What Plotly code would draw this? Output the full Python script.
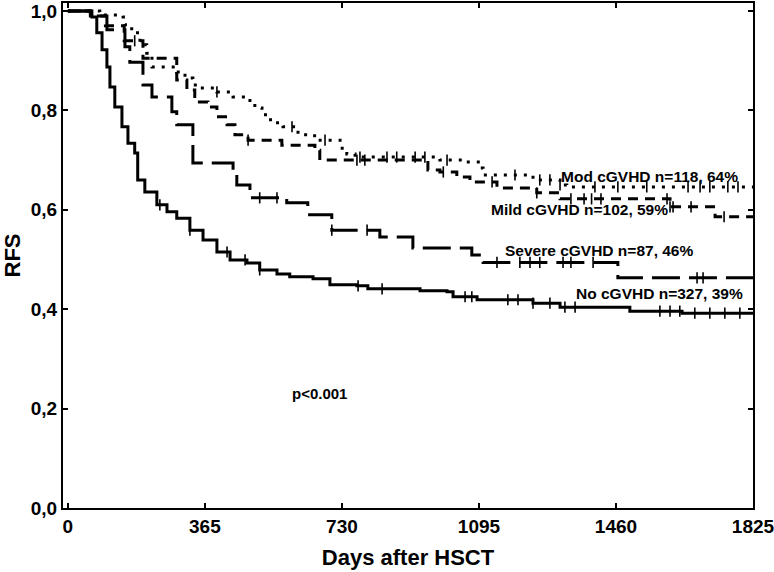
import numpy as np
import plotly.graph_objects as go

# ---- data ----
no_t = [0, 64, 77, 91, 104, 112, 125, 144, 160, 178, 186, 205, 237, 264, 290, 325, 360, 397, 432, 477,
        511, 557, 591, 653, 698, 770, 799, 938, 1010, 1026, 1090, 1239, 1311, 1497, 1636, 1825]
no_s = [1.0, 0.988, 0.956, 0.922, 0.887, 0.847, 0.807, 0.767, 0.734, 0.714, 0.660, 0.636, 0.610, 0.596,
        0.583, 0.559, 0.539, 0.515, 0.499, 0.493, 0.479, 0.471, 0.465, 0.461, 0.449, 0.447, 0.441, 0.437,
        0.435, 0.425, 0.419, 0.412, 0.404, 0.396, 0.392, 0.392]
no_cens = [245, 325, 424, 472, 511, 773, 837, 1058, 1076, 1172, 1199, 1239, 1284, 1324, 1351,
           1577, 1604, 1630, 1670, 1710, 1750, 1790]

sev_t = [0, 60, 104, 152, 165, 200, 224, 277, 290, 333, 440, 450, 485, 583, 639, 703, 831, 919, 1076,
         1106, 1465, 1825]
sev_s = [1.0, 0.99, 0.962, 0.928, 0.897, 0.851, 0.827, 0.797, 0.771, 0.694, 0.670, 0.650, 0.624, 0.614,
         0.590, 0.559, 0.545, 0.523, 0.509, 0.494, 0.463, 0.463]
sev_cens = [511, 557, 703, 797, 1143, 1204, 1231, 1257, 1319, 1340, 1399, 1676, 1692]

mild_t = [0, 60, 100, 150, 200, 290, 317, 338, 373, 397, 424, 445, 480, 570, 658, 671, 959, 991, 1036,
          1071, 1143, 1249, 1311, 1604, 1724, 1825]
mild_s = [1.0, 0.99, 0.97, 0.94, 0.905, 0.861, 0.841, 0.817, 0.807, 0.787, 0.771, 0.751, 0.740, 0.730,
          0.720, 0.700, 0.680, 0.676, 0.666, 0.656, 0.644, 0.634, 0.622, 0.606, 0.586, 0.586]
mild_cens = [178, 480, 770, 791, 1000, 1130, 1249, 1340, 1375, 1395, 1420, 1596, 1604, 1612, 1660, 1748]

mod_t = [0, 85, 147, 152, 170, 192, 210, 224, 290, 312, 333, 352, 397, 440, 485, 498, 517, 533, 551,
         573, 613, 639, 663, 725, 743, 765, 991, 1052, 1098, 1106, 1239, 1311, 1329, 1825]
mod_s = [1.0, 0.992, 0.988, 0.972, 0.956, 0.932, 0.915, 0.887, 0.877, 0.865, 0.851, 0.845, 0.837, 0.827,
         0.815, 0.805, 0.791, 0.781, 0.775, 0.767, 0.751, 0.749, 0.740, 0.724, 0.712, 0.706, 0.700,
         0.696, 0.684, 0.670, 0.660, 0.650, 0.646, 0.646]
mod_cens = [397, 597, 685, 778, 850, 876, 925, 951, 1010, 1191, 1257, 1284, 1311, 1404, 1465, 1542,
            1652, 1684, 1710, 1758, 1785]

labels = ["No cGVHD n=327, 39%", "Severe cGVHD n=87, 46%", "Mild cGVHD n=102, 59%", "Mod cGVHD n=118, 64%"]
label_x = [1804, 1670, 1604, 1790]
label_y = [0.431, 0.519, 0.600, 0.666]

x_ticks = [0, 365, 730, 1095, 1460, 1825]
y_ticks = [0.0, 0.2, 0.4, 0.6, 0.8, 1.0]
y_ticktext = ["0,0", "0,2", "0,4", "0,6", "0,8", "1,0"]

FONT = "Liberation Sans Narrow, Arial Narrow, Liberation Sans, Arial"

series = [
    (no_t, no_s, no_cens, "solid"),
    (sev_t, sev_s, sev_cens, "28px,9px"),
    (mild_t, mild_s, mild_cens, "10px,7px"),
    (mod_t, mod_s, mod_cens, "3px,7px"),
]

fig = go.Figure()
for t, s, c, dash in series:
    fig.add_trace(go.Scatter(x=t, y=s, mode="lines", line=dict(color="black", width=3, dash=dash, shape="hv"),
                             showlegend=False, hoverinfo="skip"))
    ta = np.array(t)
    sa = np.array(s)
    idx = np.searchsorted(ta, np.array(c), side="right") - 1
    fig.add_trace(go.Scatter(x=c, y=sa[idx], mode="markers",
                             marker=dict(symbol="line-ns", size=8, line=dict(color="black", width=1.6)),
                             showlegend=False, hoverinfo="skip"))

for txt, lx, ly in zip(labels, label_x, label_y):
    fig.add_annotation(x=lx, y=ly, text=txt, showarrow=False, xanchor="right", yanchor="middle",
                       font=dict(family=FONT, size=15.5, color="black", weight="bold"))

fig.add_annotation(x=669, y=0.231, text="p<0.001", showarrow=False, xanchor="center", yanchor="middle",
                   font=dict(family="Liberation Sans, Arial", size=15, color="black", weight="bold"))

axis_common = dict(showline=True, linecolor="black", linewidth=2, mirror="ticks", ticks="inside",
                   ticklen=5, tickwidth=1.5, tickcolor="black", showgrid=False, zeroline=False,
                   ticklabeloverflow="allow",
                   tickfont=dict(family=FONT, size=19, color="black", weight="bold"))

fig.update_xaxes(range=[-13, 1825], tickvals=x_ticks, ticktext=[str(v) for v in x_ticks],
                 title=dict(text="Days after HSCT", font=dict(family=FONT, size=22, color="black", weight="bold"),
                            standoff=14),
                 **axis_common)
fig.update_yaxes(range=[0, 1.016], tickvals=y_ticks, ticktext=y_ticktext,
                 title=dict(text="RFS", font=dict(family=FONT, size=22, color="black", weight="bold"),
                            standoff=8),
                 **axis_common)

fig.update_layout(width=774, height=572, margin=dict(l=63, r=21, t=3, b=64, autoexpand=False),
                  paper_bgcolor="white", plot_bgcolor="white")

fig.write_html("out.html", config={"displayModeBar": False},
               post_script="document.body.style.margin='0px';")
